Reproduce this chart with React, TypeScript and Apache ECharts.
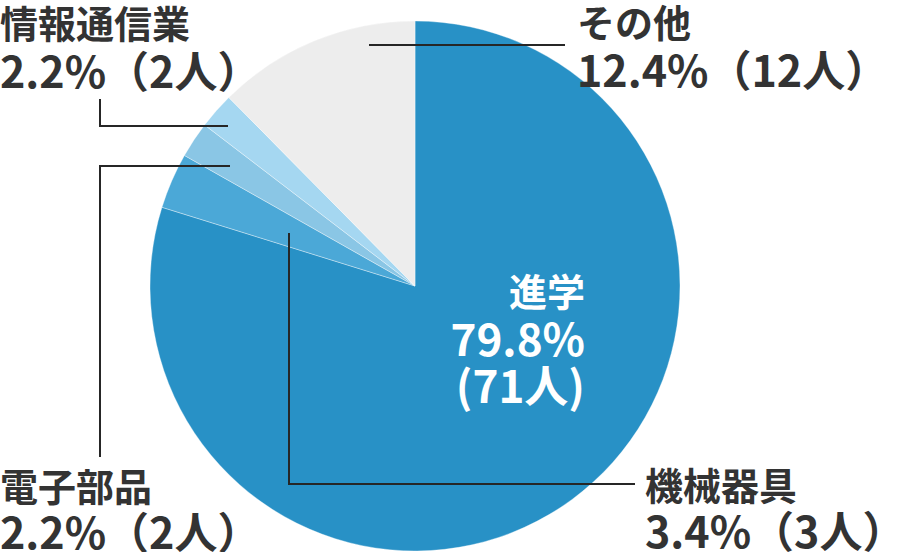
import React, { useEffect, useRef } from "react";
import * as echarts from "echarts";

const categories = ["進学", "機械器具", "電子部品", "情報通信業", "その他"];
const percents = [79.8, 3.4, 2.2, 2.2, 12.4];
const people = [71, 3, 2, 2, 12];

const sliceColors = ["#2891c6", "#4ba8d7", "#8ac6e5", "#a5d7f1", "#ededed"];

// label block placement, rich style set and leader line points
const labelPlacement: { x: number; y: number; align: string; set: string; line?: number[][] }[] = [
  { x: 585, y: 265, align: "right", set: "w" },
  { x: 645, y: 457, align: "left", set: "b", line: [[289, 233], [289, 484], [635, 484]] },
  { x: 0, y: 458, align: "left", set: "b", line: [[230, 166], [100, 166], [100, 457]] },
  { x: 0, y: 1, align: "left", set: "t", line: [[228, 126], [100, 126], [100, 99]] },
  { x: 577, y: 0, align: "left", set: "t", line: [[369, 45], [467, 45], [565, 45]] },
];

const FONT = '"Noto Sans CJK JP", "Noto Sans", sans-serif';

export default function App() {
  const ref = useRef<HTMLDivElement>(null);
  useEffect(() => {
    if (!ref.current) return;
    const chart = echarts.init(ref.current, null, { renderer: "svg" });
    const data = categories.map((name, i) => ({
      name,
      value: percents[i],
      itemStyle: { color: sliceColors[i] },
    }));
    const leaders = labelPlacement
      .filter((p) => p.line)
      .map((p) => ({
        type: "polyline",
        z: 100,
        shape: { points: p.line },
        style: { stroke: "#262626", lineWidth: 2, fill: null },
        silent: true,
      }));
    const dark = { fontFamily: FONT, color: "#333333", fontWeight: "bold" };
    chart.setOption({
      animation: false,
      backgroundColor: "#ffffff",
      graphic: { elements: leaders },
      series: [
        {
          type: "pie",
          center: [415, 286],
          radius: [0, 265],
          startAngle: 90,
          clockwise: true,
          avoidLabelOverlap: false,
          itemStyle: { borderColor: "rgba(255,255,255,0.45)", borderWidth: 0.8 },
          emphasis: { disabled: true },
          label: {
            show: true,
            position: "outside",
            fontFamily: FONT,
            formatter: (p: any) => {
              const i = p.dataIndex;
              const s = labelPlacement[i].set;
              if (s === "w") {
                return `{w1|${categories[i]}}\n{w2|${percents[i]}%}\n{w2|(${people[i]}人)}`;
              }
              return `{${s}n|${categories[i]}}\n{${s}v|${percents[i]}%（${people[i]}人）}`;
            },
            rich: {
              tn: { ...dark, fontSize: 38, lineHeight: 40 },
              tv: { ...dark, fontSize: 43, lineHeight: 56 },
              bn: { ...dark, fontSize: 38, lineHeight: 52 },
              bv: { ...dark, fontSize: 43, lineHeight: 40 },
              w1: { fontFamily: FONT, fontSize: 38, lineHeight: 48, color: "#ffffff", fontWeight: "bold", align: "right" },
              w2: { fontFamily: FONT, fontSize: 44, lineHeight: 47, color: "#ffffff", fontWeight: "bold", align: "right" },
            },
          },
          labelLine: { show: false },
          labelLayout: (params: any) => {
            const pl = labelPlacement[params.dataIndex];
            return {
              x: pl.x,
              y: pl.y,
              align: pl.align,
              verticalAlign: "top",
            };
          },
          data,
        },
      ],
    });
    return () => chart.dispose();
  }, []);
  return (
    <div
      ref={ref}
      style={{ position: "fixed", left: 0, top: 0, width: 900, height: 552 }}
    />
  );
}
